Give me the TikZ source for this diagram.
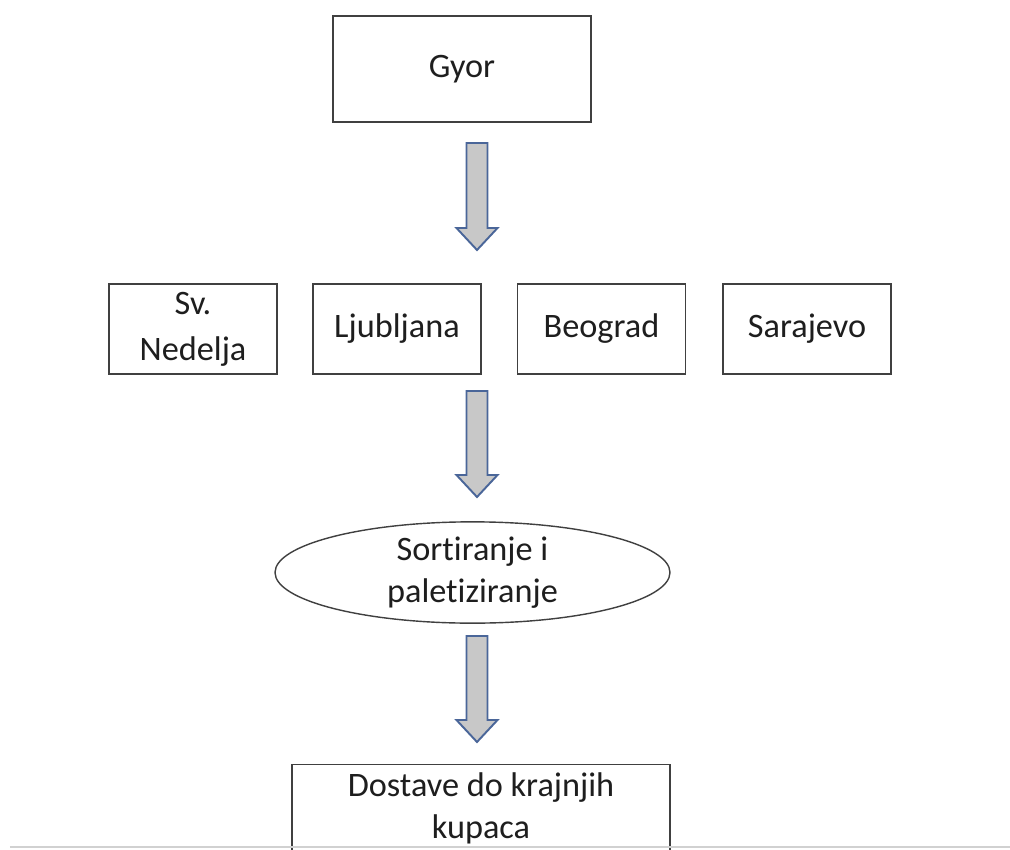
\documentclass[tikz,border=0pt]{standalone}
\usepackage{fontspec}
\setmainfont{Carlito}[RawFeature=-liga]
\usetikzlibrary{calc,shapes.geometric}
\definecolor{txtcol}{HTML}{1E1E1E}
\definecolor{boxcol}{HTML}{404040}
\definecolor{arrowfill}{HTML}{C8C8C8}
\definecolor{arrowline}{HTML}{4A6699}
\tikzset{
  box/.style={draw=boxcol,line width=.8pt,text=txtcol,align=center,font=\fontsize{19.5}{24}\selectfont},
  oval/.style={box,ellipse,inner sep=0pt},
  barrow/.style={draw=arrowline,fill=arrowfill,line width=1.1pt,line join=miter}
}
\newcommand\blockarrow[2]{%
  \draw[barrow] ($(#1)+(-.21,0)$) -- ($(#2)+(-.21,.44)$) -- ($(#2)+(-.41,.44)$) -- (#2)
    -- ($(#2)+(.41,.44)$) -- ($(#2)+(.21,.44)$) -- ($(#1)+(.21,0)$) -- cycle;}
\begin{document}
\begin{tikzpicture}
\useasboundingbox (0,0) rectangle (20.2,-17);
\clip (0,0) rectangle (20.2,-17);
\fill[white] (0,0) rectangle (20.2,-17);
\node[box,minimum width=5.16cm,minimum height=2.12cm] (gyor) at (9.24,-1.38) {Gyor};
\foreach \name/\x/\txt in {svn/3.86/{Sv.\\[2pt]Nedelja},lju/7.94/Ljubljana,beo/12.03/Beograd,sar/16.14/Sarajevo} {
  \node[box,minimum width=3.36cm,minimum height=1.8cm] (\name) at (\x,-6.58) {\txt};
}
\node[oval,minimum width=7.9cm,minimum height=1.78cm] (sort) at (9.45,-11.45) {Sortiranje i\\paletiziranje};
\node[box,anchor=north,minimum width=7.56cm,minimum height=1.76cm] (dost) at (9.62,-15.28) {Dostave do krajnjih\\kupaca};
% arrows
\coordinate (a1) at (9.54,-2.86); \coordinate (b1) at (9.54,-5.0);
\coordinate (a2) at (9.54,-7.82); \coordinate (b2) at (9.54,-9.94);
\coordinate (a3) at (9.54,-12.72); \coordinate (b3) at (9.54,-14.84);
\blockarrow{a1}{b1}
\blockarrow{a2}{b2}
\blockarrow{a3}{b3}
\coordinate (l1) at (0.2,-16.94); \coordinate (l2) at (20.2,-16.94);
\draw[black!18,line width=1.2pt] (l1) -- (l2);
\end{tikzpicture}
\end{document}
